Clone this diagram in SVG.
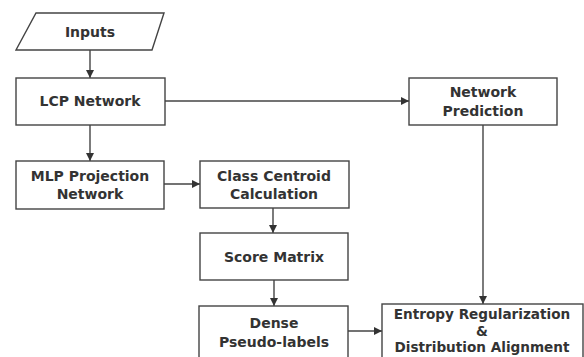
<svg xmlns="http://www.w3.org/2000/svg" width="584" height="357" viewBox="0 0 584 357">
<defs>
<style>
.box{fill:#fff;stroke:#444;stroke-width:1.4}
.t{font-family:"DejaVu Sans",sans-serif;font-weight:bold;font-size:14px;fill:#333;text-anchor:middle}
.s{font-size:13.6px}
.c{fill:none;stroke:#444;stroke-width:1.4}
</style>
<marker id="ah" viewBox="0 0 10 10" refX="10" refY="5" markerWidth="8" markerHeight="8" markerUnits="userSpaceOnUse" orient="auto">
<path d="M0,0 L10,5 L0,10 Z" fill="#333"/>
</marker>
</defs>
<rect width="584" height="357" fill="#fff"/>
<g id="connectors">
<line class="c" x1="90" y1="50" x2="90" y2="78" marker-end="url(#ah)"/>
<line class="c" x1="165" y1="101" x2="409" y2="101" marker-end="url(#ah)"/>
<line class="c" x1="90" y1="125" x2="90" y2="161" marker-end="url(#ah)"/>
<line class="c" x1="164" y1="184" x2="200" y2="184" marker-end="url(#ah)"/>
<line class="c" x1="273" y1="208" x2="273" y2="233" marker-end="url(#ah)"/>
<line class="c" x1="274" y1="280" x2="274" y2="306" marker-end="url(#ah)"/>
<line class="c" x1="483" y1="125" x2="483" y2="304" marker-end="url(#ah)"/>
<line class="c" x1="348" y1="331" x2="382" y2="331" marker-end="url(#ah)"/>
</g>
<g id="inputs">
<polygon class="box" points="36,13 164,13 152,50 16,50"/>
<text class="t" x="90" y="37">Inputs</text>
</g>
<g id="lcp">
<rect class="box" x="16" y="78" width="149" height="47"/>
<text class="t" x="90" y="106">LCP Network</text>
</g>
<g id="netpred">
<rect class="box" x="409" y="78" width="148" height="47"/>
<text class="t" x="483" y="97">Network</text>
<text class="t" x="483" y="116">Prediction</text>
</g>
<g id="mlp">
<rect class="box" x="16" y="161" width="148" height="48"/>
<text class="t" x="90" y="181">MLP Projection</text>
<text class="t" x="90" y="198.5">Network</text>
</g>
<g id="centroid">
<rect class="box" x="200" y="161" width="149" height="47"/>
<text class="t" x="274" y="181">Class Centroid</text>
<text class="t" x="274" y="199">Calculation</text>
</g>
<g id="score">
<rect class="box" x="200" y="233" width="148" height="47"/>
<text class="t" x="274" y="262">Score Matrix</text>
</g>
<g id="dense">
<rect class="box" x="199" y="306" width="149" height="60"/>
<text class="t" x="274" y="328">Dense</text>
<text class="t" x="274" y="347">Pseudo-labels</text>
</g>
<g id="entropy">
<rect class="box" x="382" y="304" width="201" height="60"/>
<text class="t s" x="482" y="319">Entropy Regularization</text>
<text class="t s" x="482" y="335.5">&amp;</text>
<text class="t s" x="482" y="352">Distribution Alignment</text>
</g>
</svg>
